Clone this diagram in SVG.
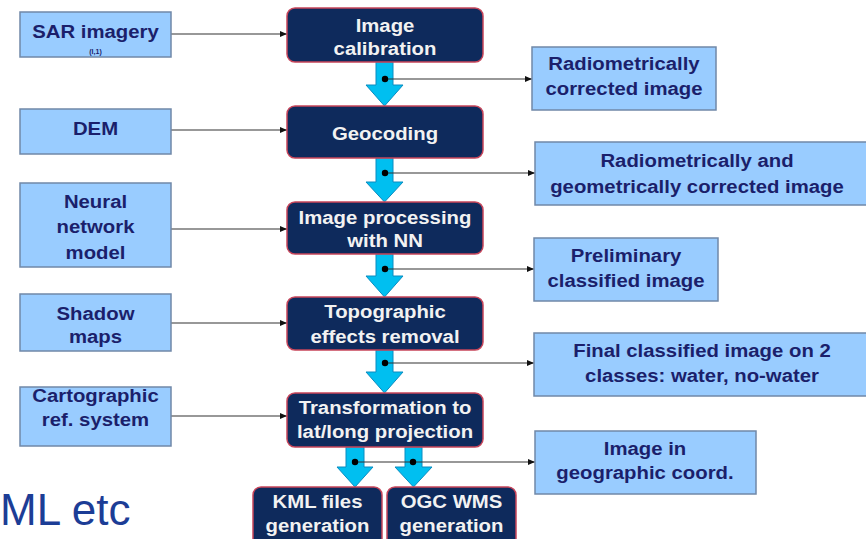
<svg xmlns="http://www.w3.org/2000/svg" width="866" height="539" viewBox="0 0 866 539">
<defs>
<style>
.in{fill:#99CCFF;stroke:#7088A8;stroke-width:1.5}
.out{fill:#99CCFF;stroke:#7088A8;stroke-width:1.5}
.pr{fill:#0E2A5C;stroke:#C8455A;stroke-width:1.5}
.t{font-family:"Liberation Sans",Arial,sans-serif;font-weight:bold;font-size:18px;text-anchor:middle}
.dk{fill:#1B1F6B}
.lt{fill:#F2F2F2}
.ar{fill:#00BFF0;stroke:#0A8CC0;stroke-width:1}
.ln{stroke:#333;stroke-width:1.2;fill:none;marker-end:url(#ah)}
.dot{fill:#000}
</style>
<marker id="ah" markerWidth="7" markerHeight="6" refX="7" refY="3" orient="auto" markerUnits="userSpaceOnUse">
<path d="M0,0 L7,3 L0,6 Z" fill="#111"/>
</marker>
</defs>
<rect width="866" height="539" fill="#FFFFFF"/>

<g id="connectors">
<path class="ar" d="M376,62 H393 V85 H403 L384.5,106 L366,85 H376 Z"/>
<path class="ar" d="M376,158 H393 V182 H403 L384.5,202 L366,182 H376 Z"/>
<path class="ar" d="M376,254 H393 V276 H403 L384.5,297 L366,276 H376 Z"/>
<path class="ar" d="M376,350 H393 V372 H403 L384.5,393 L366,372 H376 Z"/>
<path class="ar" d="M346,447 H364 V467 H373 L355,487 L337,467 H346 Z"/>
<path class="ar" d="M405,447 H422 V467 H432 L413.5,487 L395,467 H405 Z"/>
<line class="ln" x1="171" y1="34" x2="287" y2="34"/>
<line class="ln" x1="171" y1="130" x2="287" y2="130"/>
<line class="ln" x1="171" y1="229" x2="287" y2="229"/>
<line class="ln" x1="171" y1="323" x2="287" y2="323"/>
<line class="ln" x1="171" y1="416" x2="287" y2="416"/>
<line class="ln" x1="385" y1="79" x2="532" y2="79"/>
<line class="ln" x1="385" y1="173" x2="535" y2="173"/>
<line class="ln" x1="385" y1="269" x2="534" y2="269"/>
<line class="ln" x1="385" y1="363" x2="534" y2="363"/>
<line class="ln" x1="355" y1="462" x2="535" y2="462"/>
<circle class="dot" cx="385" cy="79" r="3.2"/>
<circle class="dot" cx="385" cy="173" r="3.2"/>
<circle class="dot" cx="385" cy="269" r="3.2"/>
<circle class="dot" cx="385" cy="363" r="3.2"/>
<circle class="dot" cx="355" cy="462" r="3.2"/>
<circle class="dot" cx="413" cy="462" r="3.2"/>
</g>

<g id="n-sar">
<rect class="in" x="20" y="12" width="151" height="45"/>
<text class="t dk" transform="translate(95.5,38) scale(1.13,1)">SAR imagery</text>
<text class="t dk" style="font-size:7px" x="95.5" y="54">(I,1)</text>
</g>
<g id="n-dem">
<rect class="in" x="20" y="109" width="151" height="45"/>
<text class="t dk" transform="translate(95.5,135) scale(1.13,1)">DEM</text>
</g>
<g id="n-nn">
<rect class="in" x="20" y="183" width="151" height="84"/>
<text class="t dk" transform="translate(95.5,208) scale(1.13,1)"><tspan x="0" y="0">Neural</tspan><tspan x="0" y="25.5">network</tspan><tspan x="0" y="51">model</tspan></text>
</g>
<g id="n-shadow">
<rect class="in" x="20" y="294" width="151" height="57"/>
<text class="t dk" transform="translate(95.5,320) scale(1.13,1)"><tspan x="0" y="0">Shadow</tspan><tspan x="0" y="23">maps</tspan></text>
</g>
<g id="n-carto">
<rect class="in" x="20" y="387" width="151" height="59"/>
<text class="t dk" transform="translate(95.5,402) scale(1.13,1)"><tspan x="0" y="0">Cartographic</tspan><tspan x="0" y="24">ref. system</tspan></text>
</g>

<g id="n-calib">
<rect class="pr" x="287" y="8" width="196" height="54" rx="8"/>
<text class="t lt" transform="translate(385,32) scale(1.13,1)"><tspan x="0" y="0">Image</tspan><tspan x="0" y="23">calibration</tspan></text>
</g>
<g id="n-geocoding">
<rect class="pr" x="287" y="106" width="196" height="52" rx="8"/>
<text class="t lt" transform="translate(385,140) scale(1.13,1)">Geocoding</text>
</g>
<g id="n-nnproc">
<rect class="pr" x="287" y="202" width="196" height="52" rx="8"/>
<text class="t lt" transform="translate(385,224) scale(1.13,1)"><tspan x="0" y="0">Image processing</tspan><tspan x="0" y="23">with NN</tspan></text>
</g>
<g id="n-topo">
<rect class="pr" x="287" y="297" width="196" height="53" rx="8"/>
<text class="t lt" transform="translate(385,318) scale(1.13,1)"><tspan x="0" y="0">Topographic</tspan><tspan x="0" y="25">effects removal</tspan></text>
</g>
<g id="n-transform">
<rect class="pr" x="287" y="393" width="196" height="54" rx="8"/>
<text class="t lt" transform="translate(385,414) scale(1.13,1)"><tspan x="0" y="0">Transformation to</tspan><tspan x="0" y="24">lat/long projection</tspan></text>
</g>
<g id="n-kml">
<rect class="pr" x="253" y="487" width="129" height="62" rx="8"/>
<text class="t lt" transform="translate(317.5,508) scale(1.13,1)"><tspan x="0" y="0">KML files</tspan><tspan x="0" y="24">generation</tspan></text>
</g>
<g id="n-ogc">
<rect class="pr" x="387" y="487" width="129" height="62" rx="8"/>
<text class="t lt" transform="translate(451.5,508) scale(1.13,1)"><tspan x="0" y="0">OGC WMS</tspan><tspan x="0" y="24">generation</tspan></text>
</g>

<g id="n-radio">
<rect class="out" x="532" y="47" width="184" height="63"/>
<text class="t dk" transform="translate(624,70) scale(1.13,1)"><tspan x="0" y="0">Radiometrically</tspan><tspan x="0" y="25">corrected image</tspan></text>
</g>
<g id="n-radiogeo">
<rect class="out" x="535" y="142" width="340" height="63"/>
<text class="t dk" transform="translate(697,167) scale(1.13,1)"><tspan x="0" y="0">Radiometrically and</tspan><tspan x="0" y="26">geometrically corrected image</tspan></text>
</g>
<g id="n-prelim">
<rect class="out" x="534" y="238" width="184" height="63"/>
<text class="t dk" transform="translate(626,262) scale(1.13,1)"><tspan x="0" y="0">Preliminary</tspan><tspan x="0" y="25">classified image</tspan></text>
</g>
<g id="n-final">
<rect class="out" x="534" y="333" width="340" height="63"/>
<text class="t dk" transform="translate(702,357) scale(1.13,1)"><tspan x="0" y="0">Final classified image on 2</tspan><tspan x="0" y="25">classes: water, no-water</tspan></text>
</g>
<g id="n-geo">
<rect class="out" x="535" y="431" width="221" height="63"/>
<text class="t dk" transform="translate(645,455) scale(1.13,1)"><tspan x="0" y="0">Image in</tspan><tspan x="0" y="24">geographic coord.</tspan></text>
</g>

<text x="0" y="525" style="font-family:'Liberation Sans',Arial,sans-serif;font-size:44px;fill:#1C3D96">ML etc</text>
</svg>
